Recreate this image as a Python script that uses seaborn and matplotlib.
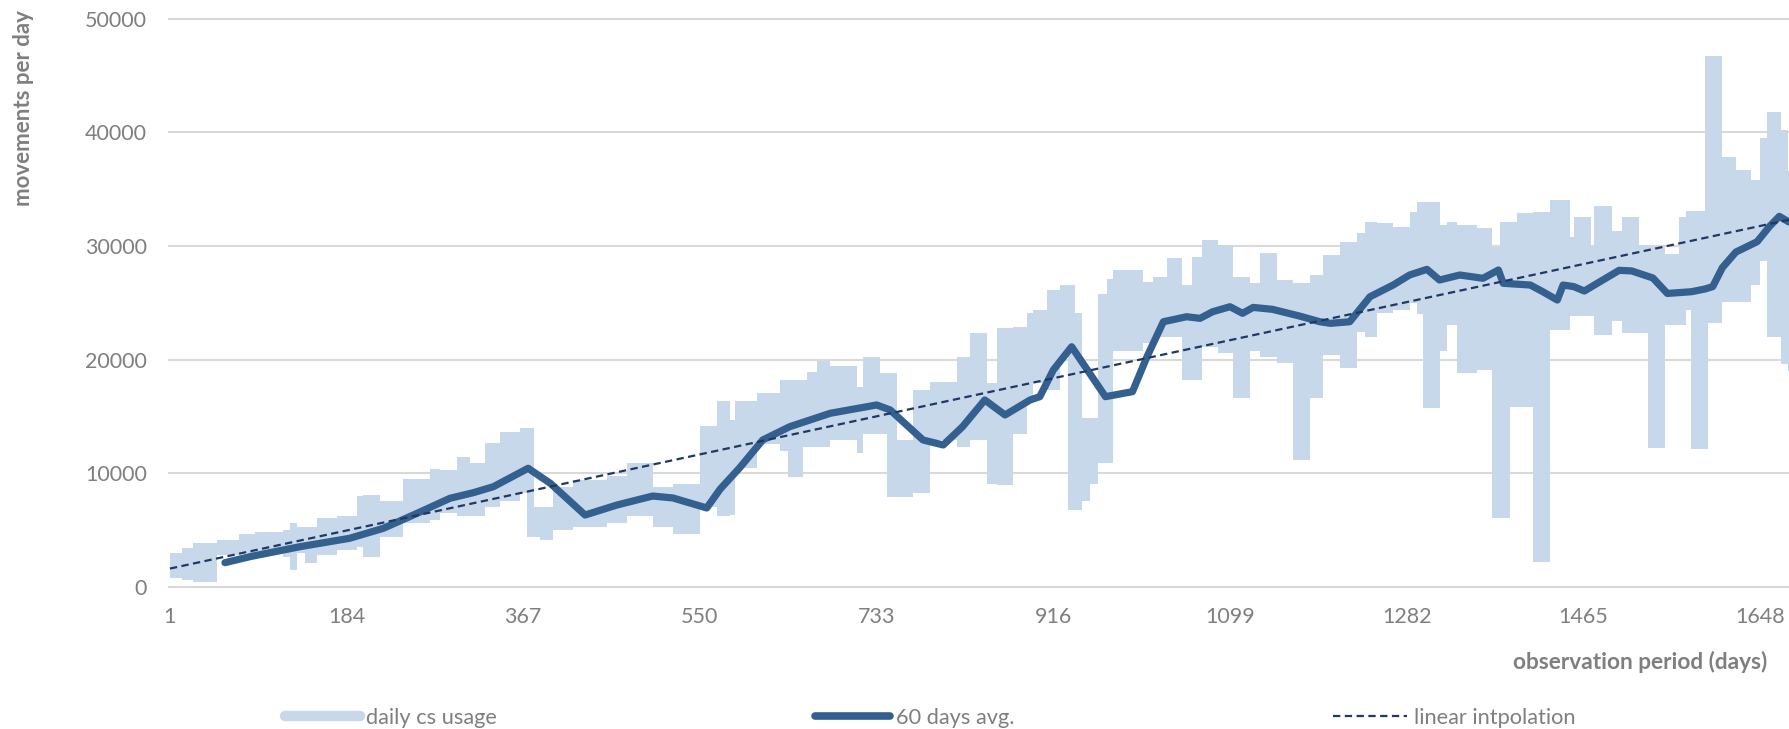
import matplotlib
matplotlib.use("Agg")
import matplotlib.pyplot as plt
import seaborn as sns
import pandas as pd
from matplotlib.lines import Line2D

# Daily car-sharing usage, stored as runs of days: each run starts on the given
# day and keeps the listed daily minimum / maximum until the next run starts.
usage_start_day = [1, 13, 25, 50, 73, 89, 118, 125, 133, 141,
                   153, 174, 195, 201, 219, 242, 270, 281, 298, 312,
                   327, 343, 364, 371, 378, 384, 398, 418, 454, 474,
                   501, 522, 550, 568, 581, 586, 609, 633, 641, 657,
                   661, 671, 685, 713, 719, 736, 744, 754, 771, 788,
                   816, 830, 847, 858, 874, 889, 895, 909, 923, 931,
                   938, 946, 954, 962, 972, 978, 1009, 1019, 1034, 1049,
                   1060, 1070, 1087, 1102, 1120, 1130, 1148, 1164, 1182, 1195,
                   1213, 1231, 1239, 1251, 1268, 1285, 1293, 1299, 1317, 1324,
                   1334, 1355, 1370, 1379, 1389, 1396, 1413, 1430, 1451, 1455,
                   1473, 1476, 1495, 1505, 1523, 1532, 1550, 1564, 1571, 1577,
                   1591, 1594, 1609, 1623, 1639, 1648, 1655, 1670, 1677]
usage_low = [800, 600, 400, 2800, 3000, 3100, 2600, 1500, 3000, 2100,
             2800, 3250, 3500, 2600, 4400, 5600, 5900, 6500, 6200, 6200,
             7000, 7600, 8300, 4400, 4400, 4100, 5000, 5300, 5600, 6200,
             5300, 4700, 7000, 6200, 6300, 10500, 12600, 12000, 9700, 12300,
             12300, 12300, 12900, 11800, 13500, 13500, 7900, 7900, 8300, 12900,
             12300, 12900, 9100, 9000, 13500, 16200, 17900, 17300, 20200, 6800,
             6800, 7600, 9100, 10900, 10900, 20800, 21500, 22000, 22000, 18200,
             18200, 21100, 20600, 16600, 20800, 20200, 19700, 11200, 16600, 20400,
             19300, 22400, 22000, 24100, 24400, 25000, 24000, 15700, 20800, 23000,
             18800, 19100, 6100, 6100, 15800, 15800, 2200, 22600, 23800, 23800,
             23800, 22200, 23400, 22300, 22300, 12200, 23000, 23000, 24400, 12100,
             12100, 23200, 25100, 25100, 26600, 28700, 22000, 19600, 19000]
usage_high = [3000, 3400, 3900, 4100, 4650, 4850, 5000, 5600, 5300, 5300,
              6100, 6200, 8000, 8100, 7600, 9500, 10400, 10300, 11400, 10900,
              12700, 13600, 14000, 14000, 7000, 7000, 8800, 9400, 9800, 10900,
              8800, 9100, 14200, 16400, 14700, 16400, 17100, 18200, 18200, 18200,
              18900, 19900, 19400, 17600, 20200, 18800, 18800, 12900, 17300, 18000,
              20200, 22300, 17900, 22800, 22900, 24100, 24400, 26100, 26600, 26600,
              24100, 14900, 14900, 25800, 27100, 27900, 26800, 27300, 28900, 26600,
              29000, 30500, 30100, 27300, 26700, 29400, 27000, 26700, 27400, 29200,
              30300, 31100, 32100, 32000, 31700, 33000, 33900, 33900, 31800, 32100,
              31800, 31600, 29900, 32100, 32100, 32900, 33000, 34000, 30800, 32500,
              29900, 33500, 31300, 32500, 30100, 29900, 29300, 32500, 33100, 33100,
              46700, 46700, 37800, 36700, 35800, 39500, 41800, 40200, 36600]
usage_last_day = 1680

# 60-day moving average
avg_day = [58, 84, 136, 187, 222, 257, 291, 315, 336, 372,
           395, 431, 464, 501, 522, 557, 571, 591, 615, 643,
           685, 733, 747, 781, 802, 822, 845, 866, 892, 902,
           916, 935, 970, 998, 1013, 1030, 1054, 1068, 1081, 1099,
           1112, 1123, 1143, 1171, 1192, 1203, 1223, 1244, 1268, 1285,
           1303, 1316, 1337, 1361, 1377, 1382, 1410, 1423, 1438, 1444,
           1455, 1466, 1480, 1502, 1515, 1537, 1552, 1577, 1591, 1599,
           1609, 1623, 1645, 1658, 1668, 1678]
avg_value = [2140, 2670, 3550, 4280, 5160, 6480, 7800, 8290, 8820, 10440,
             9120, 6330, 7210, 8000, 7830, 6950, 8620, 10470, 12930, 14100,
             15280, 16010, 15570, 12930, 12490, 14100, 16450, 15130, 16450, 16740,
             19090, 21130, 16740, 17180, 20250, 23330, 23770, 23630, 24210, 24650,
             24070, 24590, 24420, 23830, 23330, 23190, 23330, 25530, 26560, 27440,
             27940, 27000, 27440, 27150, 27880, 26710, 26560, 25970, 25240, 26560,
             26420, 26030, 26740, 27850, 27800, 27180, 25820, 25970, 26210, 26420,
             28090, 29460, 30370, 31730, 32600, 32100]

# Linear trend over the whole period (end points)
trend_day = [1, 1678]
trend_value = [1620, 32300]

x_ticks = [1, 184, 367, 550, 733, 916, 1099, 1282, 1465, 1648]
y_ticks = [0, 10000, 20000, 30000, 40000, 50000]

LIGHT = "#C8D8EB"
DARK = "#34608F"
NAVY = "#1F3864"
GRID = "#D9D9D9"
TEXT = "#7F7F7F"

sns.set_theme(style="white")
plt.rcParams["font.family"] = ["Lato", "DejaVu Sans"]

W, H = 1789, 729
fig = plt.figure(figsize=(W / 100, H / 100), dpi=100)
ax = fig.add_axes([168 / W, 1 - 590.4 / H, 1 - 168 / W, (590.4 - 15.1) / H])

band = pd.DataFrame({
    "day": usage_start_day + [usage_last_day],
    "low": usage_low + [usage_low[-1]],
    "high": usage_high + [usage_high[-1]],
})
ax.fill_between(band["day"], band["low"], band["high"], step="post",
                color=LIGHT, linewidth=0, zorder=2)

avg = pd.DataFrame({"day": avg_day, "value": avg_value})
sns.lineplot(data=avg, x="day", y="value", ax=ax, color=DARK, linewidth=5.2,
             solid_capstyle="round", solid_joinstyle="round", zorder=4,
             legend=False)

trend = pd.DataFrame({"day": trend_day, "value": trend_value})
sns.lineplot(data=trend, x="day", y="value", ax=ax, color=NAVY, linewidth=1.6,
             zorder=5, legend=False)
ax.lines[-1].set_dashes((3.3, 2.0))

ax.set_xlim(-1, 1678)
ax.set_ylim(-300, 50300)
ax.set_xticks(x_ticks)
ax.set_yticks(y_ticks)
ax.set_xlabel("")
ax.set_ylabel("")
ax.set_axisbelow(True)
ax.grid(axis="y", color=GRID, linewidth=1.5)
ax.grid(axis="x", visible=False)
sns.despine(ax=ax, left=True, bottom=True, top=True, right=True)
ax.tick_params(axis="both", length=0, labelsize=15.5, labelcolor=TEXT)
ax.tick_params(axis="y", pad=15)
ax.tick_params(axis="x", pad=12)

fig.text(24 / W, 1 - 10 / H, "movements per day", rotation=90, ha="center",
         va="top", fontsize=16, fontweight="bold", color=TEXT)
fig.text(1767 / W, 1 - 662 / H, "observation period (days)", ha="right",
         va="center", fontsize=16.3, fontweight="bold", color=TEXT)

handles = [
    Line2D([], [], color=LIGHT, linewidth=7.5),
    Line2D([], [], color=DARK, linewidth=5.5, solid_capstyle="round"),
    Line2D([], [], color=NAVY, linewidth=1.6, dashes=(3.3, 2.0)),
]
labels = ["daily cs usage", "60 days avg.", "linear intpolation"]
fig.legend(handles, labels, loc="center", bbox_to_anchor=(0.52, 1 - 718 / H),
           ncol=3, frameon=False, fontsize=15.7, handlelength=3.4,
           handletextpad=0.3, columnspacing=14.6, labelcolor=TEXT)

fig.savefig("out.png", dpi=100)
